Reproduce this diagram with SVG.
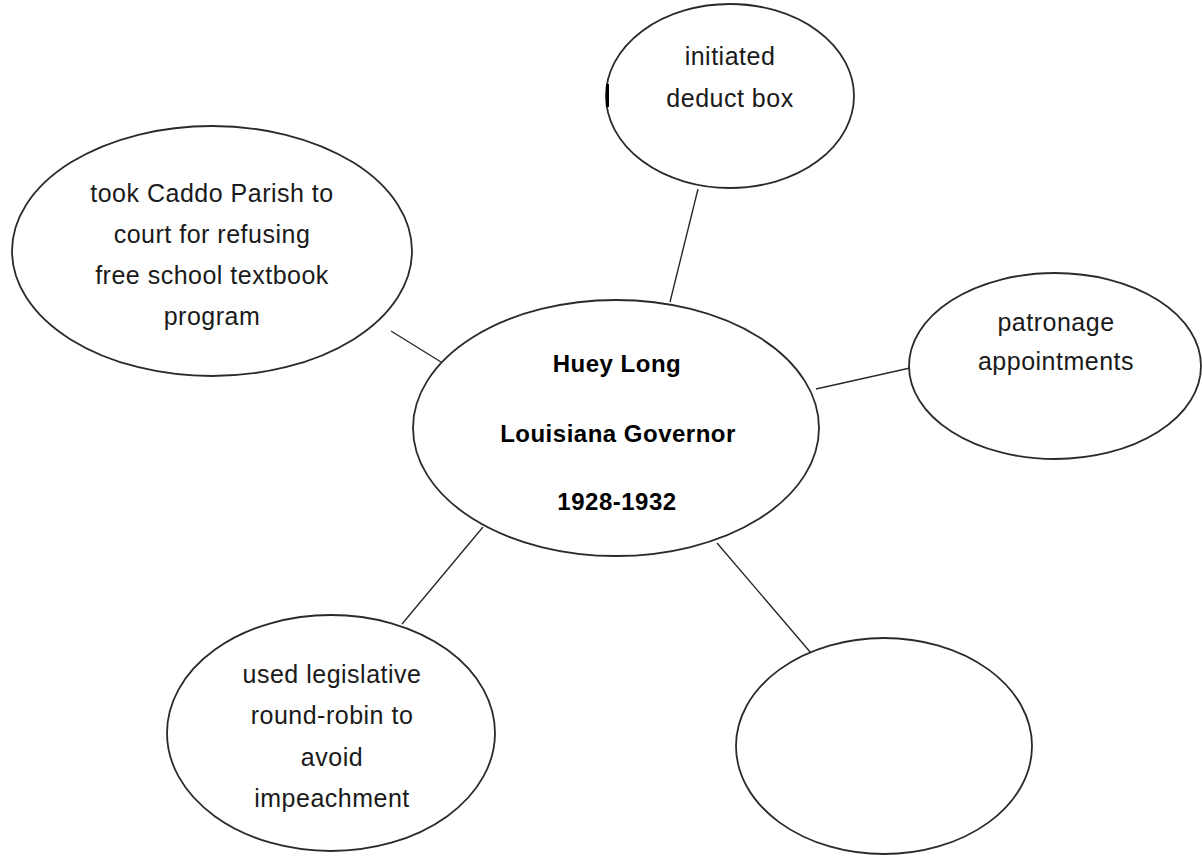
<svg xmlns="http://www.w3.org/2000/svg" width="1202" height="857" viewBox="0 0 1202 857">
  <style>
    .bubble { fill: #ffffff; stroke: #2a2a2a; stroke-width: 1.8; }
    .link { stroke: #2a2a2a; stroke-width: 1.4; fill: none; }
    .label { font-family: "Liberation Sans", Arial, sans-serif; font-size: 25px; letter-spacing: 0.5px; fill: #1a1a1a; text-anchor: middle; }
    .title { font-family: "Liberation Sans", Arial, sans-serif; font-size: 24px; font-weight: bold; letter-spacing: 0.5px; fill: #000000; text-anchor: middle; }
  </style>
  <rect width="1202" height="857" fill="#ffffff"/>

  <!-- spokes from the central bubble -->
  <g id="connectors">
    <line class="link" x1="698" y1="189" x2="670" y2="302"/>
    <line class="link" x1="391" y1="331" x2="441" y2="362"/>
    <line class="link" x1="816" y1="389" x2="910" y2="368"/>
    <line class="link" x1="483" y1="527" x2="402" y2="624"/>
    <line class="link" x1="717" y1="543" x2="811" y2="653"/>
  </g>

  <g id="center">
    <ellipse class="bubble" cx="616" cy="428" rx="203" ry="128"/>
    <text class="title" x="617" y="372">Huey Long</text>
    <text class="title" x="618" y="442">Louisiana Governor</text>
    <text class="title" x="617" y="510">1928-1932</text>
  </g>

  <g id="deduct-box">
    <ellipse class="bubble" cx="730" cy="96" rx="124" ry="92"/>
    <rect x="606" y="84" width="3" height="23" fill="#000000"/>
    <text class="label" x="730" y="65">initiated</text>
    <text class="label" x="730" y="107">deduct box</text>
  </g>

  <g id="caddo-parish">
    <ellipse class="bubble" cx="212" cy="251" rx="200" ry="125"/>
    <text class="label" x="212" y="202">took Caddo Parish to</text>
    <text class="label" x="212" y="243">court for refusing</text>
    <text class="label" x="212" y="284">free school textbook</text>
    <text class="label" x="212" y="325">program</text>
  </g>

  <g id="patronage">
    <ellipse class="bubble" cx="1055" cy="366" rx="146" ry="93"/>
    <text class="label" x="1056" y="331">patronage</text>
    <text class="label" x="1056" y="370">appointments</text>
  </g>

  <g id="round-robin">
    <ellipse class="bubble" cx="331" cy="733" rx="164" ry="118"/>
    <text class="label" x="332" y="683">used legislative</text>
    <text class="label" x="332" y="724">round-robin to</text>
    <text class="label" x="332" y="766">avoid</text>
    <text class="label" x="332" y="807">impeachment</text>
  </g>

  <g id="blank">
    <ellipse class="bubble" cx="884" cy="746" rx="148" ry="108"/>
  </g>
</svg>
